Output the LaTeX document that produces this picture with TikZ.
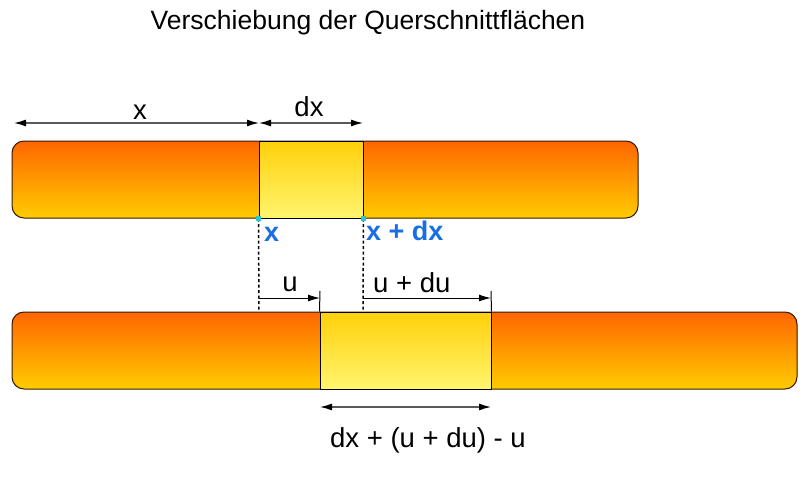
\documentclass[tikz,border=0pt]{standalone}
\usepackage{fontspec}
\setmainfont{Liberation Sans}
\usepackage{xcolor}
\usetikzlibrary{positioning,arrows.meta}
\definecolor{barTop}{RGB}{255,102,0}
\definecolor{barBot}{RGB}{255,204,0}
\definecolor{segTop}{RGB}{255,208,10}
\definecolor{segBot}{RGB}{255,245,110}
\definecolor{lblBlue}{RGB}{25,110,230}
\definecolor{dotCyan}{RGB}{40,200,210}
\tikzset{bar/.style={draw=black!80!orange,line width=1pt,rounded corners=12pt,top color=barTop,bottom color=barBot,minimum height=77pt,inner sep=0pt},
  seg/.style={draw=black,line width=1pt,top color=segTop,bottom color=segBot,minimum height=77pt,inner sep=0pt},
  dim/.style={draw=black!65,line width=1.3pt,{Latex[length=12pt,width=7pt,color=black]}-{Latex[length=12pt,width=7pt,color=black]}},
  dimr/.style={draw=black,line width=1pt,-{Latex[length=12pt,width=7pt,color=black]}},
  cut/.style={draw=black,line width=1.5pt,dash pattern=on 3pt off 2.5pt},
  lbl/.style={inner sep=0pt,font=\fontsize{27.5}{32}\selectfont},
  blbl/.style={inner sep=0pt,text=lblBlue,font=\fontsize{27}{32}\selectfont\bfseries}}

\begin{document}
\begin{tikzpicture}[x=1pt,y=-1pt]
    \useasboundingbox (0,0) rectangle (807,491);
    \node[lbl,font=\fontsize{26.5}{30}\selectfont] (title) at (368,23) {Verschiebung der Querschnittflächen};

    \node[bar,minimum width=626pt] (b1) at (325,179.5) {};
    \node[seg,minimum width=104pt] (s1) at (311,179.5) {};
    \node[bar,minimum width=785pt] (b2) at (404.5,350.5) {};
    \node[seg,minimum width=171pt] (s2) at (405.5,350.5) {};

    \coordinate (x0) at (14,123);
    \coordinate (x1) at (259,123);
    \coordinate (x2) at (363,123);
    \draw [dim] (x0) to (x1);
    \draw [dim] (x1) to (x2);
    \node[lbl] (lx) at (140,112) {x};
    \node[lbl] (ldx) at (309,107) {dx};

    \coordinate (c1) at (259,312);
    \coordinate (c2) at (363,312);
    \draw [cut] (s1.south west) to (c1);
    \draw [cut] (s1.south east) to (c2);
    \fill [dotCyan] (s1.south west) +(-2.5,-2.5) rectangle +(2.5,2.5);
    \fill [dotCyan] (s1.south east) +(-2.5,-2.5) rectangle +(2.5,2.5);
    \node[blbl,anchor=west] (bx) at (264,234) {x};
    \node[blbl,anchor=west] (bxdx) at (366,231) {x + dx};

    \coordinate (u0) at (259,298);
    \coordinate (u1) at (320,298);
    \coordinate (v0) at (363,298);
    \coordinate (v1) at (491,298);
    \coordinate (t1) at (320,291);
    \coordinate (t2) at (491,291);
    \draw [dimr] (u0) to (u1);
    \draw [dimr] (v0) to (v1);
    \draw [line width=1pt] (t1) to (s2.north west);
    \draw [line width=1pt] (t2) to (s2.north east);
    \node[lbl] (lu) at (290,284) {u};
    \node[lbl,anchor=west] (ludu) at (373,283) {u + du};

    \coordinate (w0) at (320,407);
    \coordinate (w1) at (491,407);
    \draw [dim] (w0) to (w1);
    \node[lbl] (lsum) at (428,440) {dx + (u + du) - u};
\end{tikzpicture}
\end{document}
